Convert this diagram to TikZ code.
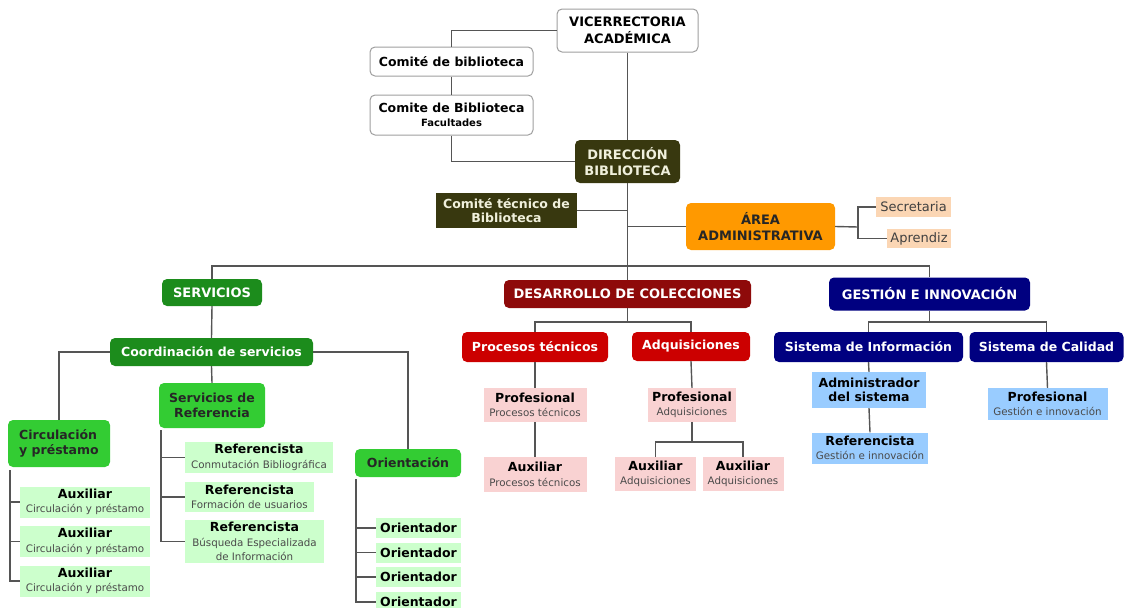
\documentclass[tikz,border=0pt]{standalone}
\usepackage{fontspec}
\setmainfont{DejaVu Sans}
\definecolor{olv}{HTML}{38380F}
\definecolor{oltxt}{HTML}{F0F0DC}
\definecolor{orng}{HTML}{FF9900}
\definecolor{peach}{HTML}{FBD6B4}
\definecolor{dgreen}{HTML}{1C8C1C}
\definecolor{bgreen}{HTML}{33CC33}
\definecolor{lgreen}{HTML}{CCFFCC}
\definecolor{dred}{HTML}{8E0A0A}
\definecolor{rred}{HTML}{CC0000}
\definecolor{pink}{HTML}{F9D2D2}
\definecolor{navy}{HTML}{000080}
\definecolor{lblue}{HTML}{99CCFF}
\definecolor{lnc}{HTML}{555555}
\definecolor{subg}{HTML}{4A4A4A}
\newcommand\subt[1]{{\fontsize{10.3}{12.5}\selectfont\mdseries\color{subg}#1}}
\begin{document}
\begin{tikzpicture}[x=1pt,y=-1pt,
  wh/.style 2 args={minimum width=#1pt, minimum height=#2pt},
  base/.style={align=center, inner sep=1pt, font=\fontsize{12.5}{14.5}\selectfont\bfseries},
  caps/.style={font=\fontsize{13}{16.5}\selectfont\bfseries},
  wbox/.style={base, draw=gray!75, line width=1pt, fill=white, rounded corners=5pt},
  obox/.style={base, fill=olv, text=oltxt},
  abox/.style={base, fill=orng, rounded corners=5pt, text=black!85},
  pbox/.style={align=center, inner sep=1pt, fill=peach, text=black!75, font=\fontsize{13}{15}\selectfont},
  dgbox/.style={base, fill=dgreen, rounded corners=5pt, text=white},
  bgbox/.style={base, fill=bgreen, rounded corners=5pt, text=black!85},
  lgbox/.style={base, fill=lgreen, text=black},
  drbox/.style={base, fill=dred, rounded corners=5pt, text=white},
  rbox/.style={base, fill=rred, rounded corners=5pt, text=white},
  pkbox/.style={base, fill=pink, text=black},
  nbox/.style={base, fill=navy, rounded corners=5pt, text=white},
  lbbox/.style={base, fill=lblue, text=black},
  conn/.style={draw=lnc, line width=1.4pt}
]
\useasboundingbox (0,0) rectangle (1125,608);

% top
\node[wbox, caps, wh={141}{43}] (vic) at (627.5,30.5) {VICERRECTORIA\\ACADÉMICA};
\node[wbox, wh={163}{29}] (cb) at (451.5,61.5) {Comité de biblioteca};
\node[wbox, wh={163}{40}] (cbf) at (451.5,115) {Comite de Biblioteca\\{\fontsize{10}{11}\selectfont Facultades}};
\node[obox, caps, wh={105}{43}, rounded corners=5pt] (dir) at (627.5,161.5) {DIRECCIÓN\\BIBLIOTECA};
\node[obox, wh={141}{35}] (ct) at (506.5,210.5) {Comité técnico de\\Biblioteca};
\node[abox, caps, wh={149}{47}] (area) at (760.5,226.5) {ÁREA\\ADMINISTRATIVA};
\node[pbox, wh={75}{20}] (sec) at (913.5,207) {Secretaria};
\node[pbox, wh={64}{19}] (apr) at (919,238.5) {Aprendiz};

% level 1
\node[dgbox, caps, wh={100}{27}] (serv) at (212,292.5) {SERVICIOS};
\node[drbox, caps, wh={247}{28}] (des) at (627.5,294) {DESARROLLO DE COLECCIONES};
\node[nbox, caps, wh={201}{33}] (gest) at (929.5,294) {GESTIÓN E INNOVACIÓN};

% servicios
\node[dgbox, wh={203}{28}] (coord) at (211.5,352) {Coordinación de servicios};
\node[bgbox, wh={106}{45}] (sref) at (212,405.5) {Servicios de\\Referencia};
\node[bgbox, wh={102}{47}, align=left] (circ) at (59,443.5) {Circulación\\y préstamo};
\node[bgbox, wh={106}{28}] (orient) at (408,463) {Orientación};

\node[lgbox, wh={130}{31}] (ax1) at (85,502) {Auxiliar\\\subt{Circulación y préstamo}};
\node[lgbox, wh={130}{31}] (ax2) at (85,541.5) {Auxiliar\\\subt{Circulación y préstamo}};
\node[lgbox, wh={130}{31}] (ax3) at (85,581) {Auxiliar\\\subt{Circulación y préstamo}};

\node[lgbox, wh={148}{31}] (rf1) at (259,457.5) {Referencista\\\subt{Conmutación Bibliográfica}};
\node[lgbox, wh={129}{30}] (rf2) at (249.5,497) {Referencista\\\subt{Formación de usuarios}};
\node[lgbox, wh={139}{43}] (rf3) at (254.5,541.5) {Referencista\\\subt{Búsqueda Especializada}\\\subt{de Información}};

\node[lgbox, wh={85}{20}] (or1) at (418.5,528) {Orientador};
\node[lgbox, wh={85}{20}] (or2) at (418.5,552.5) {Orientador};
\node[lgbox, wh={85}{20}] (or3) at (418.5,577) {Orientador};
\node[lgbox, wh={85}{20}] (or4) at (418.5,602) {Orientador};

% desarrollo
\node[rbox, wh={146}{30}] (pt) at (535,347) {Procesos técnicos};
\node[rbox, wh={118}{29}] (adq) at (691,346.5) {Adquisiciones};
\node[pkbox, wh={103}{34}] (pp) at (535,405) {Profesional\\\subt{Procesos técnicos}};
\node[pkbox, wh={88}{34}] (pa) at (692,405) {Profesional\\\subt{Adquisiciones}};
\node[pkbox, wh={103}{35}] (ap) at (535,474.5) {Auxiliar\\\subt{Procesos técnicos}};
\node[pkbox, wh={81}{34}] (aa1) at (655.5,474) {Auxiliar\\\subt{Adquisiciones}};
\node[pkbox, wh={81}{34}] (aa2) at (743,474) {Auxiliar\\\subt{Adquisiciones}};

% gestion
\node[nbox, wh={189}{30}] (si) at (868.5,347) {Sistema de Información};
\node[nbox, wh={154}{30}] (sc) at (1046.5,347) {Sistema de Calidad};
\node[lbbox, wh={114}{36}] (adm) at (869,390) {Administrador\\del sistema};
\node[lbbox, wh={116}{31}] (rg) at (870,448) {Referencista\\\subt{Gestión e innovación}};
\node[lbbox, wh={120}{32}] (pg) at (1047.5,404) {Profesional\\\subt{Gestión e innovación}};

% coordinates
\coordinate (bus) at (627.5,266);
\coordinate (adj) at (858,227);
\coordinate (dj) at (627.5,322);
\coordinate (aj) at (692,442);
\coordinate (gj) at (929.5,322);
\coordinate (cv) at (10,470);
\coordinate (rv) at (161,430);
\coordinate (ov) at (356,479);

% connectors top
\draw[conn] (vic.west) -| (cb.north);
\draw[conn] (cb.south) -- (cbf.north);
\draw[conn] (cbf.south) |- (dir.west);
\draw[conn] (vic.south) -- (dir.north);
\draw[conn] (dir.south) -- (bus);
\draw[conn] (ct.east) -- (ct.east -| dir.south);
\draw[conn] (area.west) -- (area.west -| dir.south);
\draw[conn] (area.east) -- (adj);
\draw[conn] (sec.west) -| (adj);
\draw[conn] (apr.west) -| (adj);
\draw[conn] (serv.north) |- (bus);
\draw[conn] (bus) -| (gest.north);
\draw[conn] (bus) -- (des.north);

% servicios connectors
\draw[conn] (serv.south) -- (coord.north);
\draw[conn] (coord.west) -| (circ.north);
\draw[conn] (coord.east) -| (orient.north);
\draw[conn] (coord.south) -- (sref.north);
\draw[conn] (cv) |- (ax3.west);
\draw[conn] (ax1.west -| cv) -- (ax1.west);
\draw[conn] (ax2.west -| cv) -- (ax2.west);
\draw[conn] (rv) |- (rf3.west);
\draw[conn] (rf1.west -| rv) -- (rf1.west);
\draw[conn] (rf2.west -| rv) -- (rf2.west);
\draw[conn] (ov) |- (or4.west);
\draw[conn] (or1.west -| ov) -- (or1.west);
\draw[conn] (or2.west -| ov) -- (or2.west);
\draw[conn] (or3.west -| ov) -- (or3.west);

% desarrollo connectors
\draw[conn] (des.south) -- (dj);
\draw[conn] (pt.north) |- (dj) -| (adq.north);
\draw[conn] (pt.south) -- (pp.north);
\draw[conn] (pp.south) -- (ap.north);
\draw[conn] (adq.south) -- (pa.north);
\draw[conn] (pa.south) -- (aj);
\draw[conn] (aa1.north) |- (aj) -| (aa2.north);

% gestion connectors
\draw[conn] (gest.south) -- (gj);
\draw[conn] (si.north) |- (gj) -| (sc.north);
\draw[conn] (si.south) -- (adm.north);
\draw[conn] (adm.south) -- (rg.north);
\draw[conn] (sc.south) -- (pg.north);
\end{tikzpicture}
\end{document}
